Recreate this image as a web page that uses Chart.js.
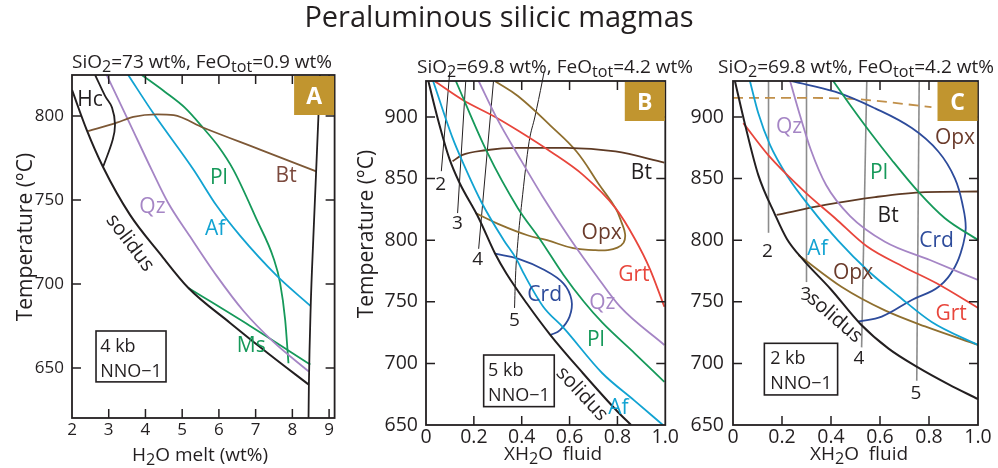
<!DOCTYPE html>
<html>
<head>
<meta charset="utf-8">
<script src="https://cdn.jsdelivr.net/npm/chart.js@4.4.1/dist/chart.umd.min.js"></script>
<style>
  body { margin:0; background:#fff; width:998px; height:468px; overflow:hidden; position:relative;
         font-family:'Open Sans', sans-serif; color:#231f20; }
  .panel { position:absolute; top:0; height:468px; }
  .txt { position:absolute; white-space:nowrap; color:#231f20; z-index:5; }
  .sub { font-size:85%; vertical-align:-0.27em; line-height:0; }
</style>
</head>
<body>
<div class="panel" style="left:0;width:345px"><canvas id="cA" width="345" height="468"></canvas></div>
<div class="panel" style="left:345px;width:335px"><canvas id="cB" width="335" height="468"></canvas></div>
<div class="panel" style="left:680px;width:318px"><canvas id="cC" width="318" height="468"></canvas></div>

<div class="txt" style="left:0;width:998px;text-align:center;top:-1px;font-size:29px;line-height:34px">Peraluminous silicic magmas</div>
<div class="txt" style="left:72px;top:50px;font-size:19px;line-height:22px">SiO<span class="sub">2</span>=73 wt%, FeO<span class="sub">tot</span>=0.9 wt%</div>
<div class="txt" style="left:417px;top:55px;font-size:19px;line-height:22px">SiO<span class="sub">2</span>=69.8 wt%, FeO<span class="sub">tot</span>=4.2 wt%</div>
<div class="txt" style="left:718px;top:55px;font-size:19px;line-height:22px">SiO<span class="sub">2</span>=69.8 wt%, FeO<span class="sub">tot</span>=4.2 wt%</div>
<div class="txt" style="left:100px;width:200px;text-align:center;top:443px;font-size:19px;line-height:22px">H<span class="sub">2</span>O melt (wt%)</div>
<div class="txt" style="left:453px;width:200px;text-align:center;top:442px;font-size:19px;line-height:22px">XH<span class="sub">2</span>O&nbsp; fluid</div>
<div class="txt" style="left:759px;width:200px;text-align:center;top:442px;font-size:19px;line-height:22px">XH<span class="sub">2</span>O&nbsp; fluid</div>

<script>
// ---- panel A : 4 kb, H2O melt (wt%) vs T (°C) ----
const aSolidus = [[2.0,815.5],[2.40,791.7],[2.845,769.6],[3.58,741.1],[4.40,717.9],[5.17,697.6],[6.305,676.8],[7.395,657.7],[8.45,640]];
const aHc      = [[2.63,824.4],[2.90,812],[3.09,805],[3.17,795],[3.11,786],[2.845,769.6]];
const aRight   = [[8.44,620],[8.45,640],[8.50,687],[8.57,727],[8.71,800],[8.75,824.4]];
const aBt      = [[2.44,791],[3.22,796],[3.67,799.5],[4.31,801],[4.77,800.5],[5.58,793],[7.12,780],[8.65,767]];
const aQz      = [[2.945,824.4],[3.58,795.2],[4.17,767.9],[4.62,748.2],[5.215,728.2],[5.94,704.8],[6.67,683.9],[7.485,665.5],[8.45,647.8]];
const aAf      = [[3.53,824.4],[4.215,801.6],[5.31,768],[5.95,746.2],[6.58,728.6],[7.58,704.8],[8.49,687]];
const aPl      = [[3.90,824.4],[4.534,814.3],[5.079,804.8],[5.578,792.7],[5.978,782.1],[6.395,767.9],[7.033,738.1],[7.485,715.5],[7.668,700.4],[7.804,678.6],[7.894,652.8]];
const aMs      = [[5.17,697.6],[6.85,675],[8.49,652]];
const aXTicks  = [2, 9.15, 1];      // min, max, step
const aYTicks  = [620.2, 824.4, 50];

// ---- panel B : 5 kb, XH2O fluid vs T (°C) ----
const bSolidus = [[0.01,929],[0.05,898],[0.098,866],[0.139,847],[0.22,818],[0.289,789],[0.336,773],[0.42,749],[0.52,723],[0.656,692],[0.80,661],[0.857,650]];
const bAf      = [[0.03,929],[0.111,883],[0.152,864],[0.234,830],[0.325,800],[0.377,785],[0.411,772],[0.49,746],[0.574,729],[0.737,692],[0.87,670],[0.99,650]];
const bPl      = [[0.125,929],[0.254,872],[0.384,826],[0.479,800],[0.574,772],[0.66,750],[0.737,733],[0.873,708],[0.996,685]];
const bQz      = [[0.22,929.2],[0.302,896.8],[0.384,869.2],[0.486,835.9],[0.60,801.8],[0.71,771.8],[0.812,745.8],[0.996,714.9]];
const bGrt     = [[0.037,929],[0.152,914],[0.289,900],[0.384,889],[0.52,872],[0.656,853],[0.792,826],[0.873,801],[0.935,777],[0.996,746]];
const bBt      = [[0.111,864],[0.15,869],[0.248,873],[0.384,875],[0.588,875],[0.792,872],[0.996,863]];
const bOpx     = [[0.289,929],[0.384,917],[0.52,893],[0.629,872],[0.724,845],[0.792,826],[0.818,814],[0.832,805],[0.826,798],[0.80,794],[0.76,792],[0.70,792],[0.615,793.5],[0.506,800],[0.424,804],[0.316,812],[0.207,822]];
const bCrd     = [[0.289,789],[0.384,785],[0.493,776],[0.574,765],[0.608,751.5],[0.60,738],[0.56,727],[0.52,723]];
const bIso2    = [[0.064,856],[0.0995,937]];
const bIso3    = [[0.132,822],[0.166,929]];
const bIso4    = [[0.22,793],[0.282,929]];
const bIso5    = [[0.37,745],[0.374,770],[0.384,799],[0.40,830],[0.431,880],[0.455,900],[0.486,929],[0.494,937]];
const bXTicks  = [0, 1, 0.2];
const bYTicks  = [650, 929.2, 50];

// ---- panel C : 2 kb, XH2O fluid vs T (°C) ----
const cSolidus = [[0.008,929],[0.049,894],[0.103,853],[0.171,821],[0.22,801],[0.287,784],[0.40,760],[0.52,732],[0.635,712],[0.753,697],[0.88,683],[1.0,671]];
const cGrt     = [[0.042,895],[0.144,869],[0.294,839],[0.416,818],[0.546,795],[0.695,778.5],[0.831,765],[1.0,745]];
const cAf      = [[0.069,929.2],[0.103,903.2],[0.151,877.3],[0.224,851.3],[0.314,827],[0.43,799.4],[0.552,775],[0.675,754.7],[0.811,733.6],[1.0,714.9]];
const cQz      = [[0.233,929.2],[0.273,901.6],[0.318,873.2],[0.38,844.8],[0.478,819.6],[0.62,798.8],[0.804,783.9],[1.0,767.7]];
const cPl      = [[0.409,929.2],[0.478,909.7],[0.559,887.8],[0.648,865.1],[0.756,839.4],[0.865,817.8],[1.0,800.2]];
const cCrd     = [[0.24,929],[0.416,920.5],[0.58,907],[0.73,891],[0.838,872],[0.906,850],[0.94,826],[0.95,810],[0.94,797],[0.906,778.5],[0.838,762],[0.73,751.5],[0.607,738],[0.512,734]];
const cBt      = [[0.178,820.5],[0.376,828.6],[0.58,835],[0.784,839],[1.0,839.5]];
const cOpx     = [[0.267,788],[0.444,762],[0.62,743],[0.784,730],[1.0,715]];
const cOpxDash = [[0.0,915.5],[0.25,915.5],[0.5,914.5],[0.81,908]];
const cIso2    = [[0.145,806],[0.145,929]];
const cIso3    = [[0.30,766],[0.30,929]];
const cIso4    = [[0.525,713],[0.546,929]];
const cIso5    = [[0.75,686],[0.76,929]];
const cXTicks  = [0, 1, 0.2];
const cYTicks  = [650, 929.2, 50];

Chart.defaults.font.family = "'Open Sans', sans-serif";
Chart.defaults.color = '#231f20';

const INK = '#231f20';
const C = {
  qz:'#a585c5', af:'#12a3d2', pl:'#16995a', grt:'#e8463c', bt:'#5e3a24', btA:'#7d5836',
  opx:'#8f6f2f', crd:'#2d4b9b', iso:'#8c8c8c', dash:'#c1904a', opxTxt:'#6b3b2b', btTxt:'#7c4a3e', badge:'#c1952f'
};
const FONT = "'Open Sans', sans-serif";

// inward ticks, frame, phase labels, condition box, panel letter, y title
function deco(cfg) {
  return {
    id: 'deco',
    afterDatasetsDraw(chart) {
      const { ctx, chartArea: a, scales: { x, y } } = chart;
      ctx.save();
      ctx.strokeStyle = INK;
      ctx.lineWidth = 1.8;
      ctx.strokeRect(a.left, a.top, a.right - a.left, a.bottom - a.top);
      ctx.lineWidth = 1.5;
      const T = 9;
      x.ticks.forEach(t => {
        const p = x.getPixelForValue(t.value);
        if (p < a.left + 2 || p > a.right - 2) return;
        ctx.beginPath();
        ctx.moveTo(p, a.bottom); ctx.lineTo(p, a.bottom - T);
        ctx.moveTo(p, a.top); ctx.lineTo(p, a.top + T);
        ctx.stroke();
      });
      y.ticks.forEach(t => {
        const p = y.getPixelForValue(t.value);
        if (p < a.top + 2 || p > a.bottom - 2) return;
        ctx.beginPath();
        ctx.moveTo(a.left, p); ctx.lineTo(a.left + T, p);
        ctx.moveTo(a.right, p); ctx.lineTo(a.right - T, p);
        ctx.stroke();
      });

      cfg.labels.forEach(l => {
        const size = l.size || 21;
        ctx.save();
        ctx.translate(x.getPixelForValue(l.x), y.getPixelForValue(l.y));
        if (l.rot) ctx.rotate(l.rot * Math.PI / 180);
        ctx.font = size + 'px ' + FONT;
        ctx.fillStyle = l.color || INK;
        ctx.textAlign = 'center';
        ctx.textBaseline = 'alphabetic';
        ctx.fillText(l.text, 0, size * 0.36);
        ctx.restore();
      });

      // pressure / buffer box
      const b = cfg.box;
      const bx0 = x.getPixelForValue(b.x0), bx1 = x.getPixelForValue(b.x1);
      const by0 = y.getPixelForValue(b.y0), by1 = y.getPixelForValue(b.y1);
      ctx.lineWidth = 1.6;
      ctx.strokeRect(bx0, by0, bx1 - bx0, by1 - by0);
      ctx.font = '18px ' + FONT;
      ctx.fillStyle = INK;
      ctx.textAlign = 'left';
      ctx.textBaseline = 'alphabetic';
      const wMax = Math.max(...b.lines.map(s => ctx.measureText(s).width));
      const tx = bx0 + (bx1 - bx0 - wMax) / 2;
      b.lines.forEach((s, i) => ctx.fillText(s, tx, by0 + 21 + i * 25));

      // panel letter
      ctx.fillStyle = C.badge;
      ctx.fillRect(a.right - 40.5, a.top + 1, 40, 39);
      ctx.fillStyle = '#fff';
      ctx.font = 'bold 23px ' + FONT;
      ctx.textAlign = 'center';
      ctx.fillText(cfg.letter, a.right - 20.5, a.top + 29);

      if (cfg.yTitle) {
        ctx.save();
        ctx.translate(cfg.yTitle.x, cfg.yTitle.y);
        ctx.rotate(-Math.PI / 2);
        ctx.font = '21px ' + FONT;
        ctx.fillStyle = INK;
        ctx.textAlign = 'center';
        ctx.fillText('Temperature (°C)', 0, 0);
        ctx.restore();
      }
      ctx.restore();
    }
  };
}

function makePanel(id, cfg) {
  const datasets = cfg.series.map(s => {
    const d = {
      data: s.pts.map(p => ({ x: p[0], y: p[1] })),
      showLine: true,
      borderColor: s.color,
      borderWidth: s.w || 1.8,
      borderDash: s.dash || [],
      pointRadius: 0,
      pointHoverRadius: 0,
      fill: false
    };
    // curves that are functions of x get a monotone spline, closed loops a tension spline
    if (s.loop) d.tension = 0.4;
    else d.cubicInterpolationMode = 'monotone';
    if (s.noClip) d.clip = false;
    return d;
  });
  return new Chart(document.getElementById(id), {
    type: 'scatter',
    data: { datasets },
    options: {
      responsive: false,
      animation: false,
      events: [],
      layout: { padding: cfg.pad },
      plugins: { legend: { display: false }, tooltip: { enabled: false } },
      scales: {
        x: {
          type: 'linear', min: cfg.xt[0], max: cfg.xt[1],
          afterFit: s => { s.height = cfg.xH; },
          grid: { display: false, drawTicks: false },
          border: { display: false },
          ticks: { stepSize: cfg.xt[2], includeBounds: false, padding: cfg.xPad,
                   font: { size: cfg.tickSize }, color: INK, maxRotation: 0,
                   callback: cfg.xFmt }
        },
        y: {
          type: 'linear', min: cfg.yt[0], max: cfg.yt[1],
          afterFit: s => { s.width = cfg.yW; },
          grid: { display: false, drawTicks: false },
          border: { display: false },
          ticks: { stepSize: cfg.yt[2], includeBounds: false, padding: cfg.yPad,
                   font: { size: cfg.tickSize }, color: INK }
        }
      }
    },
    plugins: [deco(cfg)]
  });
}

const fracFmt = v => (v === 0 ? '0' : Number(v).toFixed(1));

makePanel('cA', {
  pad: { left: 0, top: 75, right: 10.4, bottom: 0 }, xH: 50, yW: 72, xPad: 2, yPad: 8, tickSize: 17,
  xt: aXTicks, yt: aYTicks, xFmt: v => String(v), letter: 'A', yTitle: { x: 32, y: 237 },
  series: [
    { pts: aSolidus, color: INK, w: 2 },
    { pts: aHc, color: INK, w: 1.8, loop: true },
    { pts: aRight, color: INK, w: 1.8 },
    { pts: aBt, color: C.btA },
    { pts: aQz, color: C.qz },
    { pts: aAf, color: C.af },
    { pts: aPl, color: C.pl },
    { pts: aMs, color: C.pl }
  ],
  labels: [
    { text: 'Hc', x: 2.49, y: 810.5 },
    { text: 'Bt', x: 7.83, y: 765, color: C.btTxt },
    { text: 'Pl', x: 6.0, y: 764, color: C.pl },
    { text: 'Qz', x: 4.19, y: 747, color: C.qz },
    { text: 'Af', x: 5.9, y: 733.6, color: C.af },
    { text: 'Ms', x: 6.88, y: 663.7, color: C.pl },
    { text: 'solidus', x: 3.61, y: 725, rot: 53, size: 20 }
  ],
  box: { x0: 2.654, y0: 672, x1: 4.56, y1: 641.7, lines: ['4 kb', 'NNO\u22121'] }
});

makePanel('cB', {
  pad: { left: 0, top: 81, right: 9, bottom: 0 }, xH: 43, yW: 81, xPad: 1, yPad: 8, tickSize: 19.5,
  xt: bXTicks, yt: bYTicks, xFmt: fracFmt, letter: 'B', yTitle: { x: 28, y: 234 },
  series: [
    { pts: bSolidus, color: INK, w: 2 },
    { pts: bAf, color: C.af },
    { pts: bPl, color: C.pl },
    { pts: bQz, color: C.qz },
    { pts: bGrt, color: C.grt },
    { pts: bBt, color: C.bt },
    { pts: bOpx, color: C.opx, loop: true },
    { pts: bCrd, color: C.crd, loop: true },
    { pts: bIso2, color: INK, w: 1, noClip: true },
    { pts: bIso3, color: INK, w: 1 },
    { pts: bIso4, color: INK, w: 1 },
    { pts: bIso5, color: INK, w: 1, noClip: true }
  ],
  labels: [
    { text: 'Bt', x: 0.90, y: 855.6 },
    { text: 'Opx', x: 0.734, y: 807.5, color: C.opxTxt },
    { text: 'Grt', x: 0.869, y: 773.4, color: C.grt },
    { text: 'Qz', x: 0.737, y: 750, color: C.qz },
    { text: 'Pl', x: 0.71, y: 720, color: C.pl },
    { text: 'Af', x: 0.804, y: 665, color: C.af },
    { text: 'Crd', x: 0.496, y: 757, color: C.crd },
    { text: 'solidus', x: 0.656, y: 676, rot: 47, size: 20 },
    { text: '2', x: 0.061, y: 846.4, size: 19 },
    { text: '3', x: 0.131, y: 815, size: 19 },
    { text: '4', x: 0.216, y: 785.5, size: 19 },
    { text: '5', x: 0.37, y: 736, size: 19 }
  ],
  box: { x0: 0.241, y0: 706.8, x1: 0.536, y1: 664.9, lines: ['5 kb', 'NNO\u22121'] }
});

makePanel('cC', {
  pad: { left: 0, top: 81, right: 20, bottom: 0 }, xH: 43, yW: 53, xPad: 1, yPad: 9, tickSize: 19.5,
  xt: cXTicks, yt: cYTicks, xFmt: fracFmt, letter: 'C', yTitle: null,
  series: [
    { pts: cSolidus, color: INK, w: 2 },
    { pts: cGrt, color: C.grt },
    { pts: cAf, color: C.af },
    { pts: cQz, color: C.qz },
    { pts: cPl, color: C.pl },
    { pts: cCrd, color: C.crd, loop: true },
    { pts: cBt, color: C.bt },
    { pts: cOpx, color: C.opx },
    { pts: cOpxDash, color: C.dash, dash: [10, 6] },
    { pts: cIso2, color: C.iso, w: 1.6 },
    { pts: cIso3, color: C.iso, w: 1.6 },
    { pts: cIso4, color: C.iso, w: 1.6 },
    { pts: cIso5, color: C.iso, w: 1.6 }
  ],
  labels: [
    { text: 'Qz', x: 0.229, y: 893, color: C.qz },
    { text: 'Af', x: 0.345, y: 794, color: C.af },
    { text: 'Pl', x: 0.596, y: 855.6, color: C.pl },
    { text: 'Bt', x: 0.633, y: 821 },
    { text: 'Opx', x: 0.906, y: 884, color: C.opxTxt },
    { text: 'Crd', x: 0.831, y: 801, color: C.crd },
    { text: 'Grt', x: 0.89, y: 741, color: C.grt },
    { text: 'Opx', x: 0.49, y: 774.4, color: C.opxTxt },
    { text: 'solidus', x: 0.419, y: 738, rot: 41, size: 20 },
    { text: '2', x: 0.141, y: 792, size: 19 },
    { text: '3', x: 0.298, y: 757, size: 19 },
    { text: '4', x: 0.514, y: 704.8, size: 19 },
    { text: '5', x: 0.747, y: 677, size: 19 }
  ],
  box: { x0: 0.128, y0: 716.3, x1: 0.427, y1: 674.4, lines: ['2 kb', 'NNO\u22121'] }
});
</script>
</body>
</html>
